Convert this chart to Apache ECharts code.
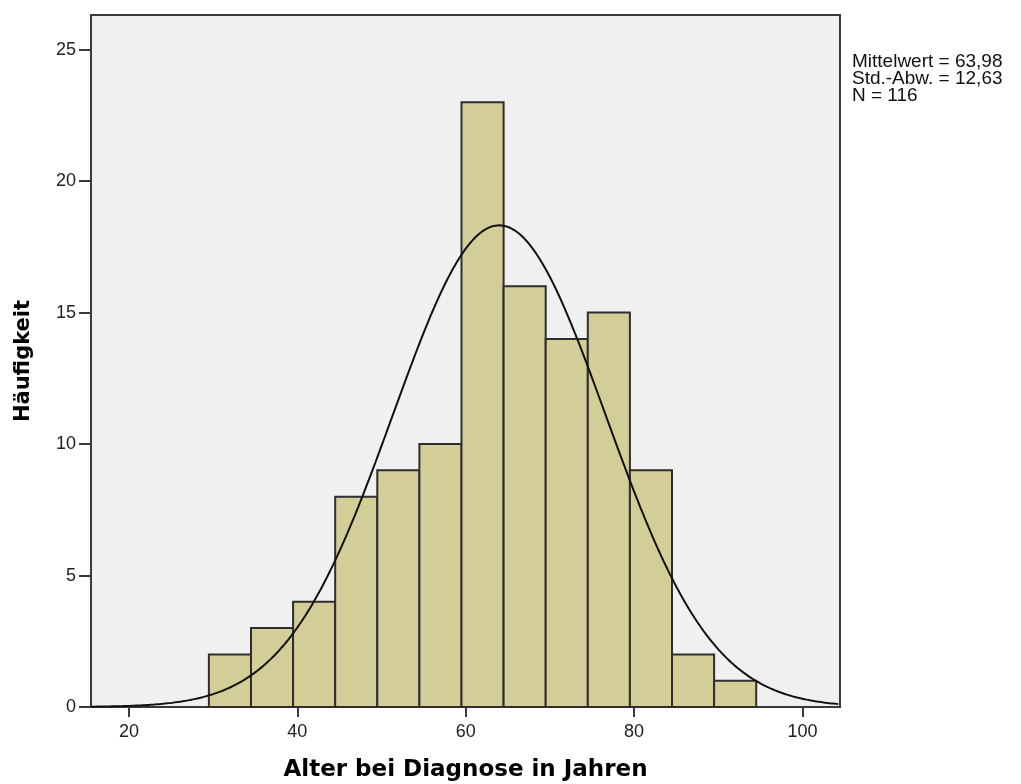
<!DOCTYPE html>
<html>
<head>
<meta charset="utf-8">
<script src="https://cdn.jsdelivr.net/npm/echarts@6/dist/echarts.min.js"></script>
<style>
  html, body { margin: 0; padding: 0; background: #fff; }
  #chart { width: 1021px; height: 784px; }
</style>
</head>
<body>
<div id="chart"></div>
<script>
// Histogram of age at diagnosis, 5-year bins, with fitted normal curve
const binStarts = [29.5, 34.5, 39.5, 44.5, 49.5, 54.5, 59.5, 64.5, 69.5, 74.5, 79.5, 84.5, 89.5];
const binWidth = 5;
const counts = [2, 3, 4, 8, 9, 10, 23, 16, 14, 15, 9, 2, 1];
const xTicks = [20, 40, 60, 80, 100];
const yTicks = [0, 5, 10, 15, 20, 25];
const mean = 63.98;
const sd = 12.63;
const n = 116;
const statLines = ['Mittelwert = 63,98', 'Std.-Abw. = 12,63', 'N = 116'];

const xMin = 15.5, xMax = 104.45;

// normal density scaled to counts per bin
const curve = [];
for (let x = xMin; x <= xMax + 1e-9; x += 0.25) {
  const z = (x - mean) / sd;
  curve.push([x, n * binWidth * Math.exp(-0.5 * z * z) / (sd * Math.sqrt(2 * Math.PI))]);
}

const bars = binStarts.map((s, i) => [s, s + binWidth, counts[i]]);

const chart = echarts.init(document.getElementById('chart'), null, { renderer: 'canvas' });
chart.setOption({
  animation: false,
  backgroundColor: '#ffffff',
  grid: {
    left: 91, top: 15, right: 181, bottom: 77,
    outerBoundsMode: 'none',
    containLabel: false,
    show: true,
    backgroundColor: '#f0f0f0',
    borderColor: '#3a3a3a',
    borderWidth: 2
  },
  xAxis: {
    type: 'value',
    min: xMin, max: xMax,
    name: 'Alter bei Diagnose in Jahren',
    nameLocation: 'middle',
    nameGap: 52,
    nameTextStyle: { fontFamily: 'DejaVu Sans', fontWeight: 'bold', fontSize: 23, color: '#000' },
    axisLine: { show: true, onZero: false, lineStyle: { color: '#3a3a3a', width: 2 } },
    axisTick: { show: true, customValues: xTicks, length: 10, lineStyle: { color: '#3a3a3a', width: 2 } },
    axisLabel: { customValues: xTicks, fontFamily: 'Liberation Sans', fontSize: 18, color: '#222', margin: 16 },
    splitLine: { show: false }
  },
  yAxis: {
    type: 'value',
    min: 0, max: 26.32,
    name: 'Häufigkeit',
    nameLocation: 'middle',
    nameGap: 57,
    nameRotate: 90,
    nameTextStyle: { fontFamily: 'DejaVu Sans', fontWeight: 'bold', fontSize: 21, color: '#000' },
    axisLine: { show: true, lineStyle: { color: '#3a3a3a', width: 2 } },
    axisTick: { show: true, customValues: yTicks, length: 12, lineStyle: { color: '#3a3a3a', width: 2 } },
    axisLabel: { customValues: yTicks, fontFamily: 'Liberation Sans', fontSize: 18, color: '#222', margin: 15 },
    splitLine: { show: false }
  },
  graphic: [{
    type: 'text',
    left: 852, top: 52,
    style: {
      text: statLines.join('\n'),
      font: '19px "Liberation Sans"',
      lineHeight: 17,
      fill: '#111'
    }
  }],
  series: [
    {
      type: 'custom',
      data: bars,
      encode: { x: [0, 1], y: 2 },
      renderItem: function (params, api) {
        const p0 = api.coord([api.value(0), 0]);
        const p1 = api.coord([api.value(1), api.value(2)]);
        return {
          type: 'rect',
          shape: { x: p0[0], y: p1[1], width: p1[0] - p0[0], height: p0[1] - p1[1] },
          style: { fill: '#d3ce98', stroke: '#2e2e2e', lineWidth: 2 }
        };
      },
      z: 2
    },
    {
      type: 'line',
      data: curve,
      showSymbol: false,
      smooth: false,
      lineStyle: { color: '#111', width: 2 },
      z: 3
    }
  ]
});
</script>
</body>
</html>
